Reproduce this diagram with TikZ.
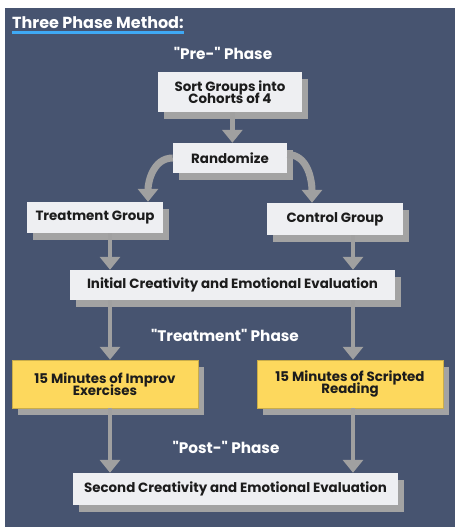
\documentclass[tikz,border=0pt]{standalone}
\usepackage{fontspec}
\setmainfont{Poppins}[Ligatures=TeXOff]
\usetikzlibrary{arrows.meta,shadows}
\definecolor{slate}{HTML}{475470}
\definecolor{boxwhite}{HTML}{EEEFF2}
\definecolor{shadowgray}{HTML}{A3A3A3}
\definecolor{arrowgray}{HTML}{A0A0A0}
\definecolor{noteyellow}{HTML}{FDD85D}
\definecolor{titleblue}{HTML}{3FA9F5}
\definecolor{textdark}{HTML}{1C1C1C}
\newlength\unitpx
\setlength\unitpx{0.85pt}
\newcommand\tightlines{\lineskiplimit=-20pt\relax}
\begin{document}
\begin{tikzpicture}[x=0.85pt,y=-0.85pt,
  box/.style={fill=boxwhite,text=textdark,inner sep=0pt,align=center,
    font=\bfseries\fontsize{11.4}{10.6}\selectfont\tightlines,
    general shadow={fill=shadowgray,shadow xshift=5pt,shadow yshift=-6pt}},
  notebox/.style={box,fill=noteyellow,draw=noteyellow!80!black,line width=0.5pt},
  phase/.style={text=white,font=\bfseries\fontsize{13}{14}\selectfont},
  flow/.style={draw=arrowgray,line width=4.2pt,-{Triangle[width=17pt,length=11pt]}},
  split/.style={flow,line width=6pt}]
  \useasboundingbox (0,0) rectangle (456,527);
  \fill[slate] (5,8) rectangle (455,527);

  % title
  \node[text=white,anchor=south west,inner sep=0pt,font=\bfseries\fontsize{13.6}{14}\selectfont] (title) at (12,29) {Three Phase Method:};
  \draw[titleblue,line width=2.5pt] ([yshift=-3pt]title.south west) -- ([yshift=-3pt]title.south east);

  % phase labels
  \node[phase] (pre) at (223,53) {"Pre-" Phase};
  \node[phase] (mid) at (225,335) {"Treatment" Phase};
  \node[phase] (post) at (226,447) {"Post-" Phase};

  % boxes
  \node[box,minimum width=144\unitpx,minimum height=40\unitpx] (sort) at (230,92) {Sort Groups into\\Cohorts of 4};
  \node[box,minimum width=114\unitpx,minimum height=30\unitpx] (rand) at (230,158) {Randomize};
  \node[box,minimum width=136\unitpx,minimum height=31\unitpx] (treat) at (95,217.5) {Treatment Group};
  \node[box,minimum width=136\unitpx,minimum height=32\unitpx] (ctrl) at (335,219) {Control Group};
  \node[box,minimum width=325\unitpx,minimum height=30\unitpx] (init) at (232.5,285) {Initial Creativity and Emotional Evaluation};
  \node[notebox,minimum width=186\unitpx,minimum height=48\unitpx] (improv) at (105,384) {15 Minutes of Improv\\Exercises};
  \node[notebox,minimum width=186\unitpx,minimum height=48\unitpx] (script) at (350,384) {15 Minutes of Scripted\\Reading};
  \node[box,minimum width=325\unitpx,minimum height=32\unitpx] (second) at (235.5,489) {Second Creativity and Emotional Evaluation};

  % arrow columns
  \coordinate (lx) at (110,0);
  \coordinate (rx) at (353,0);
  \coordinate (cl) at (148,0);
  \coordinate (cr) at (312,0);

  \draw[flow] ([xshift=2]sort.south) -- ([xshift=2]rand.north);
  \draw[split] (rand.west) to[out=180,in=90] (treat.north -| cl);
  \draw[split] ([yshift=3]rand.east) to[out=0,in=90] (ctrl.north -| cr);
  \draw[flow] (treat.south -| lx) -- (init.north -| lx);
  \draw[flow] (ctrl.south -| rx) -- (init.north -| rx);
  \draw[flow] (init.south -| lx) -- (improv.north -| lx);
  \draw[flow] (init.south -| rx) -- (script.north -| rx);
  \draw[flow] (improv.south -| lx) -- (second.north -| lx);
  \draw[flow] (script.south -| rx) -- (second.north -| rx);
\end{tikzpicture}
\end{document}
